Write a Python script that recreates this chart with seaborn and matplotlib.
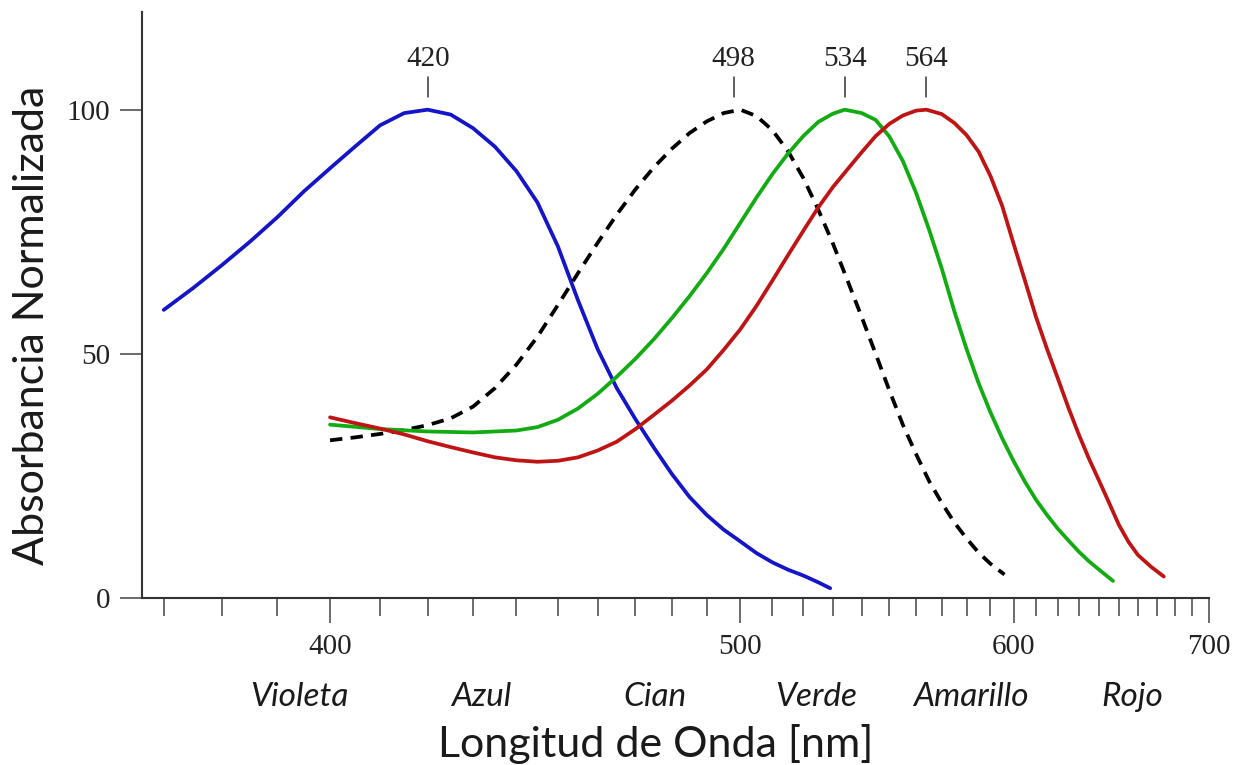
import numpy as np
import pandas as pd
import seaborn as sns
from matplotlib import pyplot as plt
from matplotlib.ticker import FixedLocator

# absorbance curves (wavelength nm, normalised %)
wl_s = [370, 375, 380, 385, 390, 395, 400, 405, 410, 415, 420, 425, 430, 435, 440, 445, 450, 455, 460,
        465, 470, 475, 480, 485, 490, 495, 500, 505, 510, 515, 520, 525, 529]
ab_s = [59, 63.5, 68.2, 73, 78, 83.3, 88, 92.5, 96.8, 99.3, 100, 99, 96.2, 92.4, 87.4, 81, 72, 61, 51,
        43, 36.6, 30.8, 25.4, 20.7, 17, 14, 11.6, 9.2, 7.3, 5.8, 4.6, 3.2, 2]

wl_rod = [400, 405, 410, 415, 420, 425, 430, 435, 440, 445, 450, 455, 460, 465, 470, 475, 480, 485, 490, 495,
          500, 505, 510, 515, 520, 525, 530, 535, 540, 545, 550, 555, 560, 565, 570, 575, 580, 585, 590, 596]
ab_rod = [32.3, 32.9, 33.6, 34.4, 35.4, 36.8, 39.2, 43, 47.8, 53.5, 60, 66.5, 72.7, 78.5, 83.7, 88.2, 92, 95.2, 97.6, 99.3,
          100, 98.7, 95.8, 91.5, 86, 79.5, 72.5, 65, 57.5, 50, 42.5, 35.5, 29.5, 24, 19.5, 15.5, 12.2, 9.3, 7, 4.8]

wl_m = [400, 410, 420, 430, 440, 445, 450, 455, 460, 465, 470, 475, 480, 485, 490, 495, 500, 505, 510, 515,
        520, 525, 530, 534, 540, 545, 550, 555, 560, 565, 570, 575, 580, 585, 590, 595, 600, 605, 610, 615,
        620, 625, 630, 635, 640, 647]
ab_m = [35.5, 34.6, 34.1, 33.9, 34.3, 35, 36.5, 38.8, 41.8, 45.3, 49, 53, 57.3, 61.8, 66.5, 71.5, 76.8, 82, 86.8, 91,
        94.6, 97.5, 99.2, 100, 99.3, 97.9, 94.5, 89.5, 83, 75.5, 67.5, 58.8, 51, 44, 38, 32.7, 28, 23.8, 20.1, 17,
        14.2, 11.8, 9.5, 7.5, 5.8, 3.5]

wl_l = [400, 405, 410, 415, 420, 425, 430, 435, 440, 445, 450, 455, 460, 465, 470, 475, 480, 485, 490, 495,
        500, 505, 510, 515, 520, 525, 530, 535, 540, 545, 550, 555, 560, 564, 570, 575, 580, 585, 590, 595,
        600, 605, 610, 615, 620, 625, 630, 635, 640, 645, 650, 655, 660, 667, 674]
ab_l = [37, 35.8, 34.7, 33.5, 32.1, 30.9, 29.8, 28.8, 28.2, 27.9, 28.1, 28.8, 30.2, 32, 34.6, 37.5, 40.4, 43.5, 46.8, 50.8,
        55, 59.8, 65, 70.2, 75.2, 80, 84.2, 87.8, 91.3, 94.6, 97.1, 98.8, 99.8, 100, 99.1, 97.3, 94.8, 91.4, 86.4, 80.3,
        72.5, 65, 57.5, 51, 45, 39, 33.5, 28.5, 24, 19.5, 15, 11.5, 8.8, 6.4, 4.4]

peaks = [420, 498, 534, 564]
band_names = ['Violeta', 'Azul', 'Cian', 'Verde', 'Amarillo', 'Rojo']
band_wl = [394.2, 431.8, 475.3, 524.4, 581.6, 657.1]

sns.set_theme(style='ticks')
plt.rcParams['font.family'] = ['Liberation Serif', 'DejaVu Serif']

fig = plt.figure(figsize=(12.41, 7.65), dpi=100)
ax = fig.add_axes([0.1144, 0.2183, 0.9742 - 0.1144, 0.9843 - 0.2183])

# wavenumber-like axis: position ~ -1/lambda
ax.set_xscale('function', functions=(lambda x: -1.0 / x, lambda y: -1.0 / y))

lw = 2.7
sns.lineplot(x=wl_s, y=ab_s, color='#1414c8', linewidth=lw, ax=ax)
sns.lineplot(x=wl_rod, y=ab_rod, color='black', linewidth=lw, linestyle=(0, (3.3, 2.2)), ax=ax)
sns.lineplot(x=wl_m, y=ab_m, color='#12ac12', linewidth=lw, ax=ax)
sns.lineplot(x=wl_l, y=ab_l, color='#c01414', linewidth=lw, ax=ax)

ax.set_xlim(366.4, 700)
ax.set_ylim(0, 120)

# peak markers
for p in peaks:
    ax.plot([p, p], [102.5, 106.6], color='#333333', lw=1.1, clip_on=False)
    ax.text(p, 110.3, str(p), ha='center', va='center', fontsize=21, color='#222222')

ax.set_yticks([0, 50, 100])
ax.set_xticks([400, 500, 600, 700])
ax.xaxis.set_minor_locator(FixedLocator(list(range(370, 700, 10))))
ax.tick_params(axis='y', length=16, width=1.1, color='#444444', labelsize=21, pad=7, labelcolor='#222222')
ax.tick_params(axis='x', which='major', length=18, width=1.1, color='#444444', labelsize=21, pad=8, labelcolor='#222222')
ax.tick_params(axis='x', which='minor', length=13, width=1.1, color='#444444')

sns.despine(ax=ax)
for side in ['left', 'bottom']:
    ax.spines[side].set_linewidth(1.5)
    ax.spines[side].set_color('#333333')

ax.set_ylabel('Absorbancia Normalizada', family=['Lato', 'DejaVu Sans'], fontsize=31, color='#1a1a1a')
ax.yaxis.set_label_coords(-0.085, 0.466)
ax.set_xlabel('Longitud de Onda [nm]', family=['Lato', 'DejaVu Sans'], fontsize=31, color='#1a1a1a')
ax.xaxis.set_label_coords(0.481, -0.215)

for name, w in zip(band_names, band_wl):
    ax.text(w, -0.169, name, transform=ax.get_xaxis_transform(), ha='center', va='center',
            family=['Lato', 'DejaVu Sans'], style='italic', fontsize=24, color='#1a1a1a')

fig.savefig('out.png', dpi=100)
